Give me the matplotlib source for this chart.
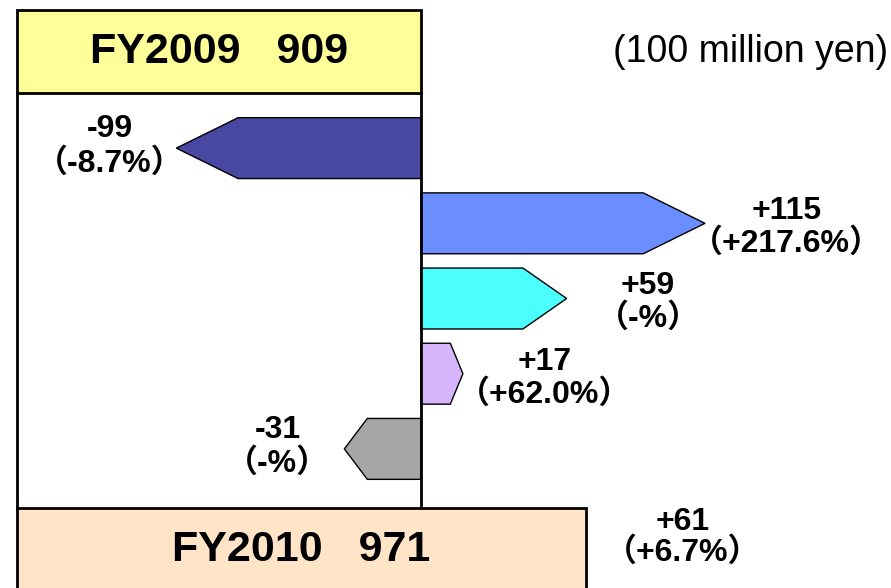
import matplotlib.pyplot as plt
from matplotlib.patches import Polygon, Rectangle

plt.rcParams['font.family'] = ['Liberation Sans', 'Noto Sans CJK JP']

# data (100 million yen)
base_name, base_value = 'FY2009', 909
result_name, result_value = 'FY2010', 971
changes = [-99, 115, 59, 17, -31]
pct_labels = ['（-8.7%）', '（+217.6%）', '（-%）', '（+62.0%）', '（-%）']
total_change = 61
total_pct = '（+6.7%）'
unit_label = '(100 million yen)'

colors = ['#4848A2', '#6A8DFF', '#4BFFFF', '#D7B5FC', '#A6A6A6']

fig = plt.figure(figsize=(8.91, 5.88), dpi=100)
ax = fig.add_axes([0, 0, 1, 1])
ax.set_xlim(-170.4, 190.3)
ax.set_ylim(5.85, -1.97)
ax.axis('off')

left = -163.6
h = 0.405

# top box
ax.add_patch(Rectangle((left, -1.834), -left, 1.103, facecolor='#FFFF99',
                       edgecolor='black', lw=2, zorder=3))
ax.text(left / 2, -1.28, f'{base_name}   {base_value}', ha='center', va='center',
        fontsize=31, fontweight='bold', zorder=4)

# bottom box
box_right = 66.8
ax.add_patch(Rectangle((left, 4.784), box_right - left, 1.2, facecolor='#FFE4C8',
                       edgecolor='black', lw=2, zorder=3))
ax.text((left + box_right) / 2, 5.35, f'{result_name}   {result_value}',
        ha='center', va='center', fontsize=31, fontweight='bold', zorder=4)

# frame lines
ax.plot([left, left], [-0.731, 4.784], color='black', lw=2, zorder=2)
ax.plot([0, 0], [-0.731, 4.784], color='black', lw=2, zorder=5)

# arrows
for i, (v, pct, c) in enumerate(zip(changes, pct_labels, colors)):
    sign = 1 if v > 0 else -1
    head = min(abs(v) * 0.3, 25) * sign
    body = v - head
    pts = [(0, i - h), (body, i - h), (v, i), (body, i + h), (0, i + h)]
    ax.add_patch(Polygon(pts, closed=True, facecolor=c, edgecolor='black',
                         lw=1, zorder=3))
    if v > 0:
        x = v + 33
        y1, y2 = i - 0.16, i + 0.27
    else:
        x = v - 27
        y1, y2 = i - 0.25, i + 0.2
    ax.text(x, y1, f'{v:+d}', ha='center', va='center', fontsize=23,
            fontweight='bold')
    ax.text(x, y2, pct, ha='center', va='center', fontsize=23, fontweight='bold')

# total change
ax.text(box_right + 39, 4.97, f'{total_change:+d}', ha='center', va='center',
        fontsize=23, fontweight='bold')
ax.text(box_right + 39, 5.38, total_pct, ha='center', va='center',
        fontsize=23, fontweight='bold')

ax.text(189, -1.28, unit_label, ha='right', va='center', fontsize=27)

fig.savefig('out.png', dpi=100)
